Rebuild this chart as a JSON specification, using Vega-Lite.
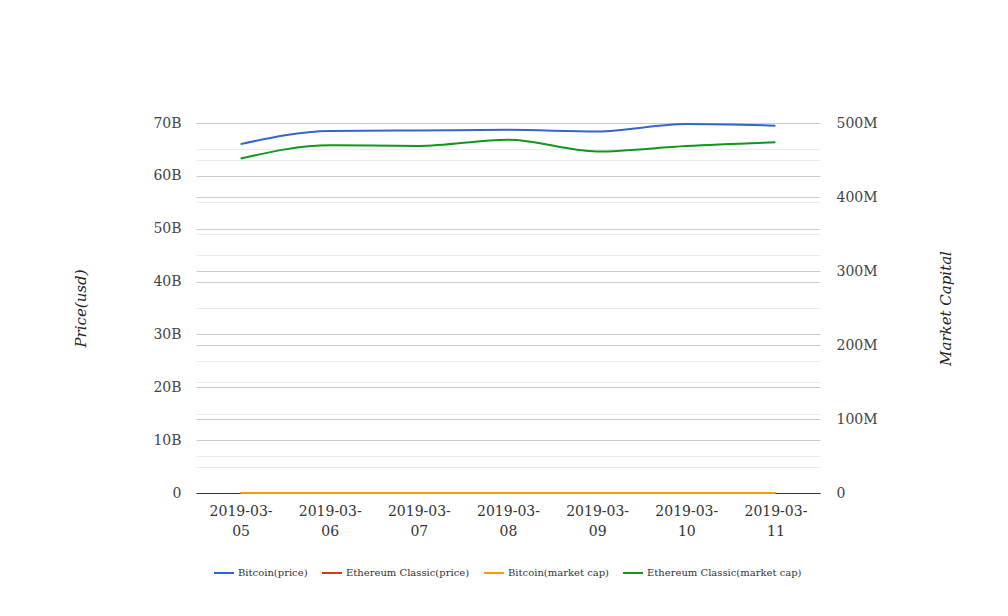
{
  "$schema": "https://vega.github.io/schema/vega-lite/v6.json",
  "width": 624,
  "height": 370,
  "autosize": {"type": "none"},
  "padding": {"left": 196, "top": 123, "right": 188, "bottom": 123},
  "background": "white",
  "config": {
    "view": {"stroke": null},
    "font": "DejaVu Serif",
    "axis": {"labelFont": "DejaVu Serif", "titleFont": "DejaVu Serif"}
  },
  "data": {
    "values": [
      {"date": "2019-03-05", "series": "Bitcoin(price)", "value": 66.0e9},
      {"date": "2019-03-06", "series": "Bitcoin(price)", "value": 68.5e9},
      {"date": "2019-03-07", "series": "Bitcoin(price)", "value": 68.6e9},
      {"date": "2019-03-08", "series": "Bitcoin(price)", "value": 68.7e9},
      {"date": "2019-03-09", "series": "Bitcoin(price)", "value": 68.4e9},
      {"date": "2019-03-10", "series": "Bitcoin(price)", "value": 69.8e9},
      {"date": "2019-03-11", "series": "Bitcoin(price)", "value": 69.5e9},
      {"date": "2019-03-05", "series": "Ethereum Classic(price)", "value": 4.4},
      {"date": "2019-03-06", "series": "Ethereum Classic(price)", "value": 4.6},
      {"date": "2019-03-07", "series": "Ethereum Classic(price)", "value": 4.6},
      {"date": "2019-03-08", "series": "Ethereum Classic(price)", "value": 4.7},
      {"date": "2019-03-09", "series": "Ethereum Classic(price)", "value": 4.5},
      {"date": "2019-03-10", "series": "Ethereum Classic(price)", "value": 4.6},
      {"date": "2019-03-11", "series": "Ethereum Classic(price)", "value": 4.6},
      {"date": "2019-03-05", "series": "Bitcoin(market cap)", "value": 3770},
      {"date": "2019-03-06", "series": "Bitcoin(market cap)", "value": 3910},
      {"date": "2019-03-07", "series": "Bitcoin(market cap)", "value": 3910},
      {"date": "2019-03-08", "series": "Bitcoin(market cap)", "value": 3920},
      {"date": "2019-03-09", "series": "Bitcoin(market cap)", "value": 3900},
      {"date": "2019-03-10", "series": "Bitcoin(market cap)", "value": 3980},
      {"date": "2019-03-11", "series": "Bitcoin(market cap)", "value": 3960},
      {"date": "2019-03-05", "series": "Ethereum Classic(market cap)", "value": 452e6},
      {"date": "2019-03-06", "series": "Ethereum Classic(market cap)", "value": 470e6},
      {"date": "2019-03-07", "series": "Ethereum Classic(market cap)", "value": 469e6},
      {"date": "2019-03-08", "series": "Ethereum Classic(market cap)", "value": 477.5e6},
      {"date": "2019-03-09", "series": "Ethereum Classic(market cap)", "value": 461.5e6},
      {"date": "2019-03-10", "series": "Ethereum Classic(market cap)", "value": 469e6},
      {"date": "2019-03-11", "series": "Ethereum Classic(market cap)", "value": 474e6}
    ]
  },
  "encoding": {
    "x": {
      "field": "date",
      "type": "ordinal",
      "scale": {"type": "point", "padding": 0.5},
      "axis": {
        "title": null,
        "labelAngle": 0,
        "labelFontSize": 14,
        "labelColor": "#333",
        "labelPadding": 11,
        "labelLineHeight": 20,
        "labelExpr": "[slice(datum.label, 0, 8), slice(datum.label, 8)]",
        "ticks": false,
        "grid": false,
        "domainColor": "#333",
        "domainWidth": 1
      }
    },
    "color": {
      "field": "series",
      "type": "nominal",
      "scale": {
        "domain": ["Bitcoin(price)", "Ethereum Classic(price)", "Bitcoin(market cap)", "Ethereum Classic(market cap)"],
        "range": ["#3366cc", "#dc3912", "#ff9900", "#109618"]
      },
      "legend": {
        "title": null,
        "orient": "none",
        "direction": "horizontal",
        "legendX": 17,
        "legendY": 439,
        "symbolType": "stroke",
        "symbolSize": 400,
        "symbolStrokeWidth": 2,
        "labelFont": "DejaVu Serif",
        "labelFontSize": 10,
        "labelColor": "#333",
        "labelOffset": 3,
        "columnPadding": 10
      }
    }
  },
  "layer": [
    {
      "transform": [{"filter": "datum.series === 'Bitcoin(price)' || datum.series === 'Ethereum Classic(price)'"}],
      "mark": {"type": "line", "interpolate": "monotone", "strokeWidth": 2},
      "encoding": {
        "y": {
          "field": "value",
          "type": "quantitative",
          "scale": {"domain": [0, 70000000000], "nice": false},
          "axis": {
            "title": "Price(usd)",
            "titleFontStyle": "italic",
            "titleFontWeight": "normal",
            "titleFontSize": 15,
            "titleColor": "#222",
            "titleAngle": 270,
            "titleX": -116,
            "titleY": 185,
            "titleAlign": "center",
            "titleBaseline": "middle",
            "values": [0, 5e9, 10e9, 15e9, 20e9, 25e9, 30e9, 35e9, 40e9, 45e9, 50e9, 55e9, 60e9, 65e9, 70e9],
            "labelExpr": "datum.value % 10e9 === 0 ? (datum.value === 0 ? '0' : (datum.value / 1e9) + 'B') : ''",
            "labelFontSize": 14,
            "labelColor": "#444",
            "labelPadding": 15,
            "labelBaseline": "middle",
            "ticks": false,
            "domain": false,
            "grid": true,
            "gridColor": {"condition": {"test": "datum.value % 10e9 === 0", "value": "#cccccc"}, "value": "#ebebeb"}
          }
        }
      }
    },
    {
      "transform": [{"filter": "datum.series === 'Bitcoin(market cap)' || datum.series === 'Ethereum Classic(market cap)'"}],
      "mark": {"type": "line", "interpolate": "monotone", "strokeWidth": 2},
      "encoding": {
        "y": {
          "field": "value",
          "type": "quantitative",
          "scale": {"domain": [0, 500000000], "nice": false},
          "axis": {
            "orient": "right",
            "title": "Market Capital",
            "titleFontStyle": "italic",
            "titleFontWeight": "normal",
            "titleFontSize": 15,
            "titleColor": "#222",
            "titleAngle": 270,
            "titleX": 125,
            "titleY": 185,
            "titleAlign": "center",
            "titleBaseline": "middle",
            "values": [0, 50e6, 100e6, 150e6, 200e6, 250e6, 300e6, 350e6, 400e6, 450e6, 500e6],
            "labelExpr": "datum.value % 100e6 === 0 ? (datum.value === 0 ? '0' : (datum.value / 1e6) + 'M') : ''",
            "labelFontSize": 14,
            "labelColor": "#444",
            "labelPadding": 16,
            "labelBaseline": "middle",
            "ticks": false,
            "domain": false,
            "grid": true,
            "gridColor": {"condition": {"test": "datum.value % 100e6 === 0", "value": "#cccccc"}, "value": "#ebebeb"}
          }
        }
      }
    }
  ],
  "resolve": {"scale": {"y": "independent"}}
}
